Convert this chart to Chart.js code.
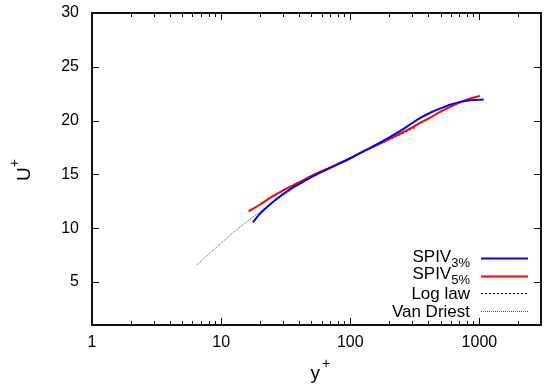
<!DOCTYPE html>
<html>
<head>
<meta charset="utf-8">
<script src="https://cdn.jsdelivr.net/npm/chart.js@4/dist/chart.umd.min.js"></script>
<style>
  html, body { margin: 0; padding: 0; background: #fff; }
  #wrap { width: 546px; height: 385px; }
</style>
</head>
<body>
<div id="wrap"><canvas id="profile"></canvas></div>
<script>
// mean velocity profile
const yPlus3 = [17.6, 20, 25, 30, 35, 40, 50, 70, 100, 120, 170, 244, 300, 349, 420, 496, 600, 710, 850, 1080];
const uPlus3 = [10.55, 11.35, 12.4, 13.15, 13.7, 14.1, 14.75, 15.6, 16.5, 17.0, 17.95, 19.05, 19.75, 20.25, 20.75, 21.12, 21.5, 21.74, 21.88, 21.95];

const yPlus5 = [16.3, 20, 25, 30, 40, 50, 70, 100, 120, 170, 244, 300, 349, 420, 496, 600, 710, 850, 1010];
const uPlus5 = [11.55, 12.2, 12.95, 13.5, 14.25, 14.85, 15.65, 16.5, 17.0, 17.85, 18.8, 19.35, 19.8, 20.3, 20.8, 21.3, 21.7, 22.05, 22.3];

const yPlusLog = [30, 318];
const uPlusLog = [13.56, 19.35];

const yPlusVD = [6.5, 10, 13, 17, 24, 30, 40, 60, 100];
const uPlusVD = [6.6, 8.6, 9.8, 10.9, 12.2, 13.0, 14.0, 15.2, 16.5];

const xTicks = [1, 10, 100, 1000];
const yTicks = [5, 10, 15, 20, 25, 30];

const legendMain = ['SPIV', 'SPIV', 'Log law', 'Van Driest'];
const legendSub = ['3%', '5%', '', ''];

const FONT = '"Liberation Sans", Arial, Helvetica, sans-serif';

function pts(xs, ys) {
  return xs.map((x, i) => ({ x: x, y: ys[i] }));
}

const gnuFrame = {
  id: 'gnuFrame',
  afterDatasetsDraw(chart) {
    const { ctx, chartArea: a, scales: { x, y } } = chart;
    ctx.save();
    ctx.strokeStyle = '#000';
    ctx.lineWidth = 1;
    const seg = (x1, y1, x2, y2) => {
      ctx.beginPath(); ctx.moveTo(x1, y1); ctx.lineTo(x2, y2); ctx.stroke();
    };
    // y ticks, mirrored
    yTicks.forEach(v => {
      const py = Math.round(y.getPixelForValue(v)) + 0.5;
      seg(a.left, py, a.left + 7, py);
      seg(a.right, py, a.right - 7, py);
    });
    // x ticks (log, with minors), mirrored
    xTicks.forEach(d => {
      for (let k = 1; k <= 9; k++) {
        const v = d * k;
        if (v > x.max) break;
        const len = k === 1 ? 7 : 4;
        const px = Math.round(x.getPixelForValue(v)) + 0.5;
        seg(px, a.bottom, px, a.bottom - len);
        seg(px, a.top, px, a.top + len);
      }
    });
    ctx.lineWidth = 2;
    ctx.strokeStyle = '#111';
    ctx.strokeRect(a.left, a.top, a.right - a.left, a.bottom - a.top);

    // legend, gnuplot style: right aligned text, sample on the right
    const ds = chart.data.datasets;
    const textRight = a.right - 71;
    ds.forEach((d, i) => {
      const rowY = a.bottom - 14.5 - (ds.length - 1 - i) * 17.5;
      ctx.fillStyle = '#000';
      ctx.textAlign = 'right';
      ctx.textBaseline = 'alphabetic';
      if (legendSub[i]) {
        ctx.font = '13px ' + FONT;
        const w = ctx.measureText(legendSub[i]).width;
        ctx.fillText(legendSub[i], textRight, rowY + 8.7);
        ctx.font = '17px ' + FONT;
        ctx.fillText(legendMain[i], textRight - w, rowY + 3.5);
      } else {
        ctx.font = '17px ' + FONT;
        ctx.fillText(legendMain[i], textRight, rowY + 6);
      }
      ctx.strokeStyle = d.borderColor;
      ctx.lineWidth = d.borderWidth;
      ctx.setLineDash(d.borderDash || []);
      seg(a.right - 60, Math.round(rowY) + 0.5, a.right - 13, Math.round(rowY) + 0.5);
      ctx.setLineDash([]);
    });

    // axis titles with superscript plus
    ctx.fillStyle = '#000';
    ctx.textAlign = 'left';
    ctx.textBaseline = 'alphabetic';
    ctx.font = '19px ' + FONT;
    ctx.fillText('y', 310.5, 379);
    const wy = ctx.measureText('y').width;
    ctx.font = '14px ' + FONT;
    ctx.fillText('+', 310.5 + wy + 2, 368);

    ctx.translate(30, 181);
    ctx.rotate(-Math.PI / 2);
    ctx.font = '19px ' + FONT;
    ctx.fillText('U', 0, 0);
    const wu = ctx.measureText('U').width;
    ctx.font = '14px ' + FONT;
    ctx.fillText('+', wu, -11);
    ctx.restore();
  }
};

new Chart(document.getElementById('profile'), {
  type: 'line',
  data: {
    datasets: [
      { label: 'SPIV 3%', data: pts(yPlus3, uPlus3), borderColor: '#0000ff', borderWidth: 2, pointRadius: 0, cubicInterpolationMode: 'monotone' },
      { label: 'SPIV 5%', data: pts(yPlus5, uPlus5), borderColor: '#ff0000', borderWidth: 2, pointRadius: 0, cubicInterpolationMode: 'monotone' },
      { label: 'Log law', data: pts(yPlusLog, uPlusLog), borderColor: '#000000', borderWidth: 1, borderDash: [2, 2], pointRadius: 0 },
      { label: 'Van Driest', data: pts(yPlusVD, uPlusVD), borderColor: '#555555', borderWidth: 1, borderDash: [1, 1], pointRadius: 0, cubicInterpolationMode: 'monotone' }
    ]
  },
  options: {
    responsive: true,
    maintainAspectRatio: false,
    animation: false,
    layout: { padding: { top: 13, right: 5, left: 0, bottom: 0 } },
    plugins: {
      legend: { display: false },
      tooltip: { enabled: false }
    },
    scales: {
      x: {
        type: 'logarithmic',
        min: 1,
        max: 3000,
        grid: { display: false, drawTicks: false },
        border: { display: false },
        afterBuildTicks: s => { s.ticks = xTicks.map(v => ({ value: v })); },
        afterFit: s => { s.height = 60; s.paddingLeft = 0; s.paddingRight = 0; },
        ticks: {
          color: '#000',
          padding: 8,
          maxRotation: 0,
          autoSkip: false,
          font: { family: FONT, size: 16 },
          callback: v => String(v)
        }
      },
      y: {
        type: 'linear',
        min: 1,
        max: 30,
        grid: { display: false, drawTicks: false },
        border: { display: false },
        afterBuildTicks: s => { s.ticks = yTicks.map(v => ({ value: v })); },
        afterFit: s => { s.width = 92; s.paddingTop = 0; s.paddingBottom = 0; },
        ticks: {
          color: '#000',
          padding: 13,
          font: { family: FONT, size: 16 },
          callback: v => String(v)
        }
      }
    }
  },
  plugins: [gnuFrame]
});
</script>
</body>
</html>
